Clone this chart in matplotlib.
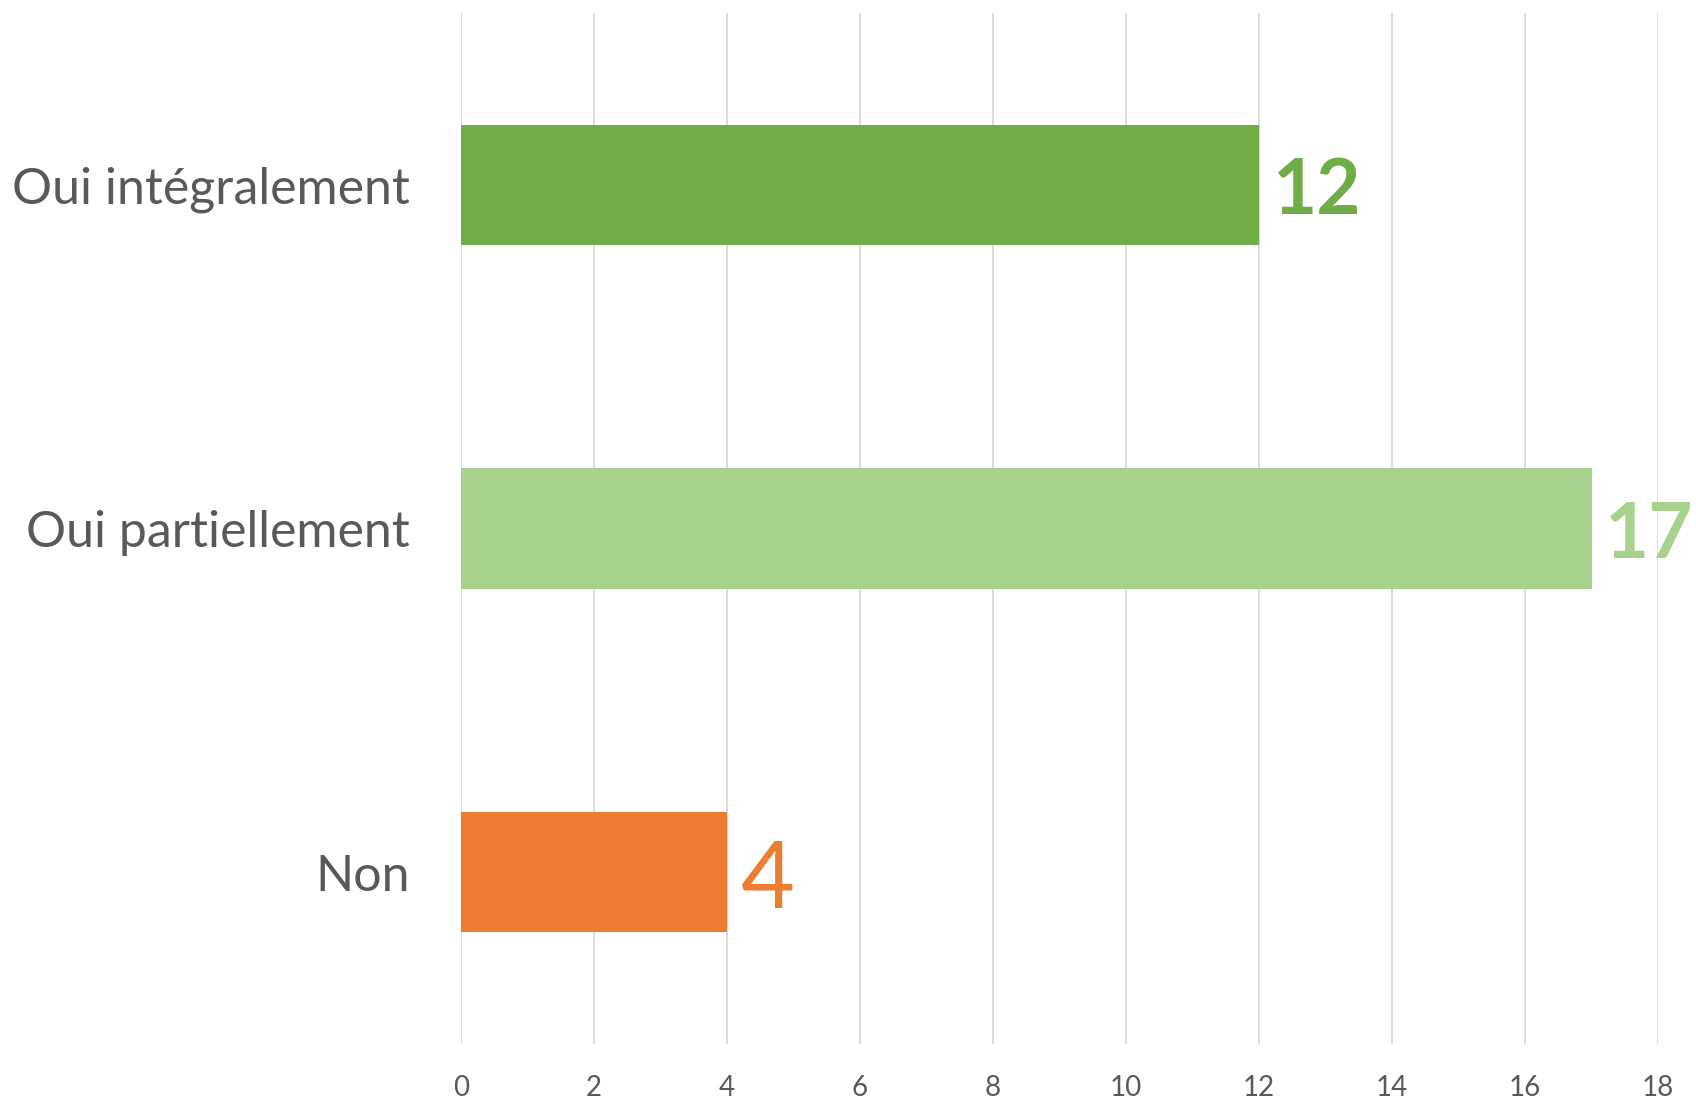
import matplotlib
matplotlib.use("Agg")
import matplotlib.pyplot as plt

categories = ["Oui intégralement", "Oui partiellement", "Non"]
values = [12, 17, 4]
bar_colors = ["#70AD47", "#A9D18E", "#ED7D31"]
label_sizes = [55, 55, 67]
label_weights = ["bold", "bold", "normal"]
xticks = [0, 2, 4, 6, 8, 10, 12, 14, 16, 18]

plt.rcParams['font.family'] = ['Lato', 'DejaVu Sans']
text_color = "#595959"

fig = plt.figure(figsize=(16.96, 11.01), dpi=100)
ax = fig.add_axes([0.2718, 0.0518, 0.9776 - 0.2718, 0.988 - 0.0518])

y = list(range(len(categories)))
ax.barh(y, values, height=0.35, color=bar_colors, zorder=3)

# data labels sit a bit below the bar centre, like in Excel
for i, v in enumerate(values):
    ax.annotate(str(v), (v, i), xytext=(10, -5 if i < 2 else -7),
                textcoords="offset points",
                ha="left", va="center", fontsize=label_sizes[i],
                fontweight=label_weights[i], color=bar_colors[i], zorder=4)

ax.set_xlim(0, 18)
ax.set_ylim(2.5, -0.5)
ax.set_xticks(xticks)
ax.set_yticks(y)
ax.set_yticklabels(categories)
ax.grid(axis="x", color="#D9D9D9", linewidth=1.3, zorder=0)
ax.tick_params(axis="x", length=0, labelsize=20, colors=text_color, pad=22)
ax.tick_params(axis="y", length=0, labelsize=36, colors=text_color, pad=37)
for s in ax.spines.values():
    s.set_visible(False)

fig.savefig("out.png", dpi=100)
